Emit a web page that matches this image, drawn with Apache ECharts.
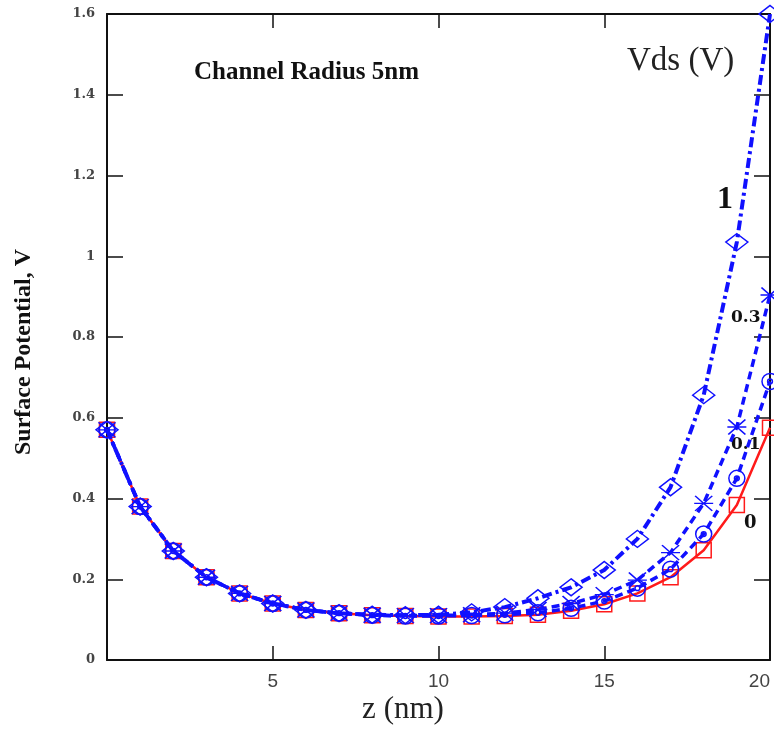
<!DOCTYPE html>
<html>
<head>
<meta charset="utf-8">
<script src="https://cdn.jsdelivr.net/npm/echarts@6/dist/echarts.min.js"></script>
<style>
html,body{margin:0;padding:0;background:#fff;overflow:hidden;width:774px;height:729px;}
#chart{width:774px;height:729px;position:absolute;left:0;top:0;}
</style>
</head>
<body>
<div id="chart"></div>
<script>
// z positions (nm)
var zValues = [0,1,2,3,4,5,6,7,8,9,10,11,12,13,14,15,16,17,18,19,20];
// Surface potential (V) for each Vds
var vds0   = [0.57,0.38,0.27,0.205,0.165,0.14,0.124,0.116,0.111,0.109,0.108,0.108,0.109,0.112,0.122,0.138,0.165,0.205,0.272,0.384,0.575];
var vds01  = [0.57,0.38,0.27,0.205,0.165,0.14,0.124,0.116,0.111,0.109,0.109,0.110,0.112,0.117,0.128,0.146,0.178,0.225,0.312,0.450,0.690];
var vds03  = [0.57,0.38,0.27,0.205,0.165,0.14,0.124,0.116,0.111,0.110,0.110,0.112,0.116,0.125,0.140,0.162,0.198,0.266,0.388,0.577,0.904];
var vds1   = [0.57,0.38,0.27,0.205,0.165,0.14,0.124,0.116,0.112,0.111,0.112,0.118,0.131,0.153,0.180,0.223,0.300,0.428,0.656,1.035,1.600];
var xTicks = [0,5,10,15,20];
var yTicks = [0,0.2,0.4,0.6,0.8,1,1.2,1.4,1.6];

function pairs(ys){ return zValues.map(function(z,i){ return [z, ys[i]]; }); }

var blue = '#1010ff';
var red = '#ff1a1a';
var circleDot = 'path://M0,-10A10,10 0 1,1 0,10A10,10 0 1,1 0,-10Z M0,-3A3,3 0 1,1 0,3A3,3 0 1,1 0,-3Z';
var crossSym = 'path://M-9,-7L9,7M-9,7L9,-7M-10,0L10,0';

var chart = echarts.init(document.getElementById('chart'), null, {renderer:'canvas', width:774, height:729});
var serif = 'Liberation Serif';
var option = {
  animation:false,
  backgroundColor:'#fff',
  grid:{left:107,right:4,top:14,bottom:69,containLabel:false,outerBoundsMode:'none'},
  xAxis:[{
    type:'value', min:0, max:20, interval:5,
    axisLine:{show:true,onZero:false,lineStyle:{color:'#111',width:2}},
    axisTick:{show:true,inside:true,length:14,lineStyle:{color:'#111',width:1.5}},
    axisLabel:{show:true,color:'#444',fontFamily:'Liberation Sans',fontSize:19,margin:12,alignMaxLabel:'right',
      formatter:function(v){return v===0?'':String(v);}},
    splitLine:{show:false}
  },{
    type:'value', position:'top', min:0, max:20, interval:5,
    axisLine:{show:true,onZero:false,lineStyle:{color:'#111',width:2}},
    axisTick:{show:true,inside:true,length:14,lineStyle:{color:'#111',width:1.5}},
    axisLabel:{show:false}, splitLine:{show:false}
  }],
  yAxis:[{
    type:'value', min:0, max:1.6, interval:0.2,
    axisLine:{show:true,onZero:false,lineStyle:{color:'#111',width:2}},
    axisTick:{show:true,inside:true,length:16,lineStyle:{color:'#111',width:1.5}},
    axisLabel:{show:true,color:'#444',fontFamily:'DejaVu Serif',fontWeight:'bold',fontSize:13,margin:12},
    splitLine:{show:false}
  },{
    type:'value', position:'right', min:0, max:1.6, interval:0.2,
    axisLine:{show:true,onZero:false,lineStyle:{color:'#111',width:2}},
    axisTick:{show:true,inside:true,length:16,lineStyle:{color:'#111',width:1.5}},
    axisLabel:{show:false}, splitLine:{show:false}
  }],
  series:[
    {name:'0', type:'line', data:pairs(vds0), symbol:'rect', symbolSize:15, showAllSymbol:true,
     lineStyle:{color:red,width:2.5,type:'solid'},
     itemStyle:{color:'rgba(255,255,255,0)',borderColor:red,borderWidth:1.5}, z:2},
    {name:'0.1', type:'line', data:pairs(vds01), symbol:circleDot, symbolSize:16,
     lineStyle:{color:blue,width:3.5,type:[8,5]},
     itemStyle:{color:'rgba(255,255,255,0)',borderColor:blue,borderWidth:1.5}, z:3},
    {name:'0.3', type:'line', data:pairs(vds03), symbol:crossSym, symbolSize:[19,15],
     lineStyle:{color:blue,width:3.5,type:[8,5]},
     itemStyle:{color:blue,borderColor:blue,borderWidth:1.5}, z:3},
    {name:'1', type:'line', data:pairs(vds1), symbol:'diamond', symbolSize:[22,17],
     lineStyle:{color:blue,width:4,type:[10,4,3,4]},
     itemStyle:{color:'rgba(255,255,255,0)',borderColor:blue,borderWidth:1.5}, z:4}
  ],
  graphic:[
    {type:'text', left:194, top:60, style:{text:'Channel Radius 5nm', font:'bold 25px "Liberation Serif"', fill:'#111'}},
    {type:'text', left:627, top:45, style:{text:'Vds (V)', font:'33px "Liberation Serif"', fill:'#222'}},
    {type:'text', left:717, top:184, style:{text:'1', font:'bold 32px "Liberation Serif"', fill:'#111'}},
    {type:'text', left:731, top:309, style:{text:'0.3', font:'bold 17px "DejaVu Serif"', fill:'#111'}},
    {type:'text', left:731, top:436, style:{text:'0.1', font:'bold 17px "DejaVu Serif"', fill:'#111'}},
    {type:'text', left:744, top:514, style:{text:'0', font:'bold 18px "DejaVu Serif"', fill:'#111'}},
    {type:'text', x:24, y:352, rotation:Math.PI/2,
     style:{text:'Surface Potential, V', font:'bold 24px "Liberation Serif"', fill:'#111', align:'center', verticalAlign:'middle'}},
    {type:'text', x:403, y:710,
     style:{text:'z (nm)', font:'31px "Liberation Serif"', fill:'#222', align:'center', verticalAlign:'middle'}}
  ]
};
chart.setOption(option);
</script>
</body>
</html>
